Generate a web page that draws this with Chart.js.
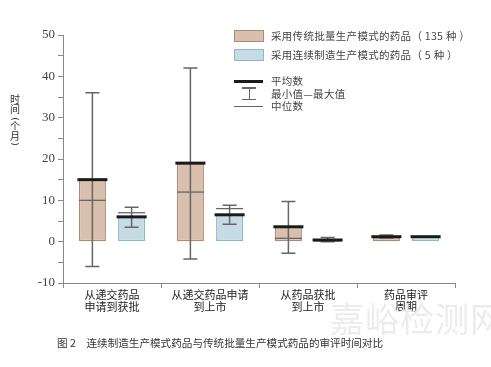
<!DOCTYPE html>
<html><head><meta charset="utf-8">
<script src="https://cdn.jsdelivr.net/npm/chart.js@4"></script>
<style>
html,body{margin:0;padding:0;background:#fff;}
#wrap{position:relative;width:491px;height:367px;overflow:hidden;font-family:"Noto Sans CJK SC",sans-serif;}
#c{position:absolute;left:0;top:0;}
.t{position:absolute;white-space:nowrap;color:#444;font-size:10.5px;line-height:12px;}
.yt{position:absolute;left:9px;width:12px;height:10px;text-align:center;font-size:10px;line-height:10px;color:#333;}
.rp{transform:rotate(90deg);font-family:"DejaVu Sans",sans-serif;font-size:9px;}
.sw{position:absolute;box-sizing:border-box;}
</style></head>
<body><div id="wrap">
<canvas id="c" width="491" height="320"></canvas>
<div class="yt" style="top:94px">时</div>
<div class="yt" style="top:104px">间</div>
<div class="yt rp" style="top:114px">(</div>
<div class="yt" style="top:121px">个</div>
<div class="yt" style="top:131px">月</div>
<div class="yt rp" style="top:139px">)</div>
<div class="sw" style="left:234px;top:30px;width:30px;height:12px;background:#d9bfad;border:1px solid #b08a70"></div>
<div class="t" style="left:271px;top:30px;letter-spacing:0.3px">采用传统批量生产模式的药品（ 135 种 ）</div>
<div class="sw" style="left:234px;top:49px;width:30px;height:12px;background:#c6dbe4;border:1px solid #8db7cb"></div>
<div class="t" style="left:271px;top:49px;letter-spacing:0.3px">采用连续制造生产模式的药品（ 5 种 ）</div>
<div class="sw" style="left:234px;top:80px;width:29px;height:3px;background:#1a1a1a"></div>
<div class="sw" style="left:242px;top:87px;width:14px;height:1.5px;background:#666"></div>
<div class="sw" style="left:248.5px;top:87px;width:1.5px;height:12px;background:#666"></div>
<div class="sw" style="left:242px;top:98.5px;width:14px;height:1.5px;background:#666"></div>
<div class="sw" style="left:234px;top:106px;width:29px;height:1.3px;background:#666"></div>
<div class="t" style="left:271px;top:75px;letter-spacing:0.3px">平均数</div>
<div class="t" style="left:271px;top:88px;letter-spacing:0.3px">最小值—最大值</div>
<div class="t" style="left:271px;top:100px;letter-spacing:0.3px">中位数</div>
<div class="t" style="left:330px;top:300px;font-size:34px;line-height:36px;color:#ececec;letter-spacing:1px">嘉峪检测网</div>
<div class="t" style="left:57px;top:337px;font-size:10.6px;color:#333">图 2　连续制造生产模式药品与传统批量生产模式药品的审评时间对比</div>
</div>
<script>
const categories = [["从递交药品","申请到获批"],["从递交药品申请","到上市"],["从药品获批","到上市"],["药品审评","周期"]];
const seriesNames = ["采用传统批量生产模式的药品（135 种）","采用连续制造生产模式的药品（5 种）"];
const batchMean   = [15, 19, 3.6, 1.2];
const batchMedian = [10, 12, 0.8, 1.0];
const batchMin    = [-6, -4.2, -2.8, 0.9];
const batchMax    = [36, 42, 9.7, 1.6];
const contMean    = [6, 6.5, 0.4, 1.2];
const contMedian  = [7, 8, 0.2, 1.2];
const contMin     = [3.5, 4.2, 0, 1.2];
const contMax     = [8.3, 8.8, 1.0, 1.2];
const yTicks = [-10, 0, 10, 20, 30, 40, 50];

const stats = [
  {mean: batchMean, median: batchMedian, min: batchMin, max: batchMax},
  {mean: contMean, median: contMedian, min: contMin, max: contMax}
];

const boxPlugin = {
  id: 'boxStats',
  afterDatasetsDraw(chart) {
    const ctx = chart.ctx, y = chart.scales.y;
    stats.forEach((s, di) => {
      const meta = chart.getDatasetMeta(di);
      meta.data.forEach((bar, i) => {
        const x = bar.x, hw = bar.width / 2;
        ctx.save();
        ctx.strokeStyle = '#666'; ctx.lineWidth = 1.5;
        const yMin = y.getPixelForValue(s.min[i]), yMax = y.getPixelForValue(s.max[i]);
        if (s.max[i] !== s.min[i]) {
          ctx.beginPath();
          ctx.moveTo(x, yMin); ctx.lineTo(x, yMax);
          ctx.moveTo(x - 7, yMin); ctx.lineTo(x + 7, yMin);
          ctx.moveTo(x - 7, yMax); ctx.lineTo(x + 7, yMax);
          ctx.stroke();
        }
        const yMed = y.getPixelForValue(s.median[i]);
        ctx.lineWidth = 1.3;
        ctx.beginPath(); ctx.moveTo(x - hw, yMed); ctx.lineTo(x + hw, yMed); ctx.stroke();
        const yMean = y.getPixelForValue(s.mean[i]);
        ctx.strokeStyle = '#1a1a1a'; ctx.lineWidth = 3;
        ctx.beginPath(); ctx.moveTo(x - hw - 1.5, yMean); ctx.lineTo(x + hw + 1.5, yMean); ctx.stroke();
        ctx.restore();
      });
    });
  }
};

new Chart(document.getElementById('c'), {
  type: 'bar',
  data: {
    labels: categories,
    datasets: [
      {label: seriesNames[0], data: batchMean, backgroundColor: '#d9bfad', borderColor: '#b08a70', borderWidth: 1.5, borderSkipped: false},
      {label: seriesNames[1], data: contMean, backgroundColor: '#c6dbe4', borderColor: '#8db7cb', borderWidth: 1.5, borderSkipped: false}
    ]
  },
  options: {
    responsive: false,
    animation: false,
    categoryPercentage: 0.8,
    barPercentage: 0.69,
    layout: {padding: {left: 0, right: 36, top: 35, bottom: 0}},
    plugins: {legend: {display: false}, tooltip: {enabled: false}},
    scales: {
      x: {
        grid: {display: true, offset: true, drawOnChartArea: false, tickLength: 5, color: '#888', lineWidth: 1},
        border: {display: true, color: '#888', width: 1},
        ticks: {color: '#222', padding: 1, font: {family: '"Noto Sans CJK SC"', size: 11, lineHeight: 1.05, weight: 'normal'}, maxRotation: 0, autoSkip: false},
        afterFit(s) { s.height = 37; }
      },
      y: {
        min: -10, max: 50,
        grid: {display: true, drawOnChartArea: false, tickLength: 5, color: '#888'},
        border: {display: true, color: '#888', width: 1},
        ticks: {stepSize: 5, color: '#444', padding: 3, font: {family: '"Liberation Serif", serif', size: 13},
          callback: v => yTicks.includes(v) ? String(v) : ''},
        afterFit(s) { s.width = 63; }
      }
    }
  },
  plugins: [boxPlugin]
});
</script>
</body></html>
